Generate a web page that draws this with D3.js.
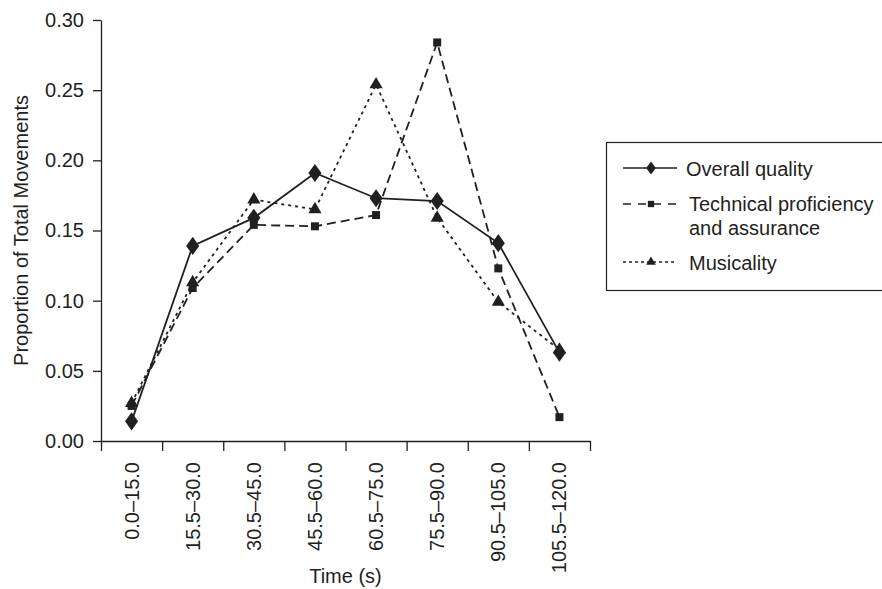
<!DOCTYPE html>
<html>
<head>
<meta charset="utf-8">
<script src="https://cdn.jsdelivr.net/npm/d3@7"></script>
<style>
  body { margin: 0; background: #fff; }
  svg { font-family: 'Liberation Sans', Arial, sans-serif; }
</style>
</head>
<body>
<div id="chart"></div>
<script>
const timeBins = ['0.0–15.0', '15.5–30.0', '30.5–45.0', '45.5–60.0', '60.5–75.0', '75.5–90.0', '90.5–105.0', '105.5–120.0']
const overallQuality = [0.014, 0.139, 0.159, 0.191, 0.173, 0.171, 0.141, 0.063]
const technical = [0.025, 0.109, 0.154, 0.153, 0.161, 0.284, 0.123, 0.017]
const musicality = [0.027, 0.113, 0.172, 0.165, 0.254, 0.159, 0.099, 0.065]
const yTicks = [0, 0.05, 0.10, 0.15, 0.20, 0.25, 0.30]

const width = 882
const height = 589
const ink = '#231f20'
const fontSize = '20px'
const plotLeft = 101
const plotRight = 590
const plotTop = 20
const plotBottom = 441

const svg = d3.select('#chart')
  .append('svg')
  .attr('width', width)
  .attr('height', height)

const x = d3.scaleBand().domain(timeBins).range([plotLeft, plotRight])
const xEdge = d3.scaleLinear().domain([0, timeBins.length]).range([plotLeft, plotRight])
const y = d3.scaleLinear().domain([0, 0.30]).range([plotBottom, plotTop])

// y axis
const yAxis = svg.append('g')
  .attr('transform', `translate(${plotLeft},0)`)
  .call(d3.axisLeft(y).tickValues(yTicks).tickFormat(d3.format('.2f')).tickSize(8).tickSizeOuter(0).tickPadding(9))
yAxis.selectAll('text').style('font-size', fontSize).attr('fill', ink)
yAxis.selectAll('line, path').attr('stroke', ink).attr('stroke-width', 1.3)

// x axis boundary ticks
const xAxis = svg.append('g')
  .attr('transform', `translate(0,${plotBottom})`)
  .call(d3.axisBottom(xEdge).tickValues(d3.range(timeBins.length + 1)).tickFormat('').tickSize(10).tickSizeOuter(0))
xAxis.selectAll('line, path').attr('stroke', ink).attr('stroke-width', 1.3)

// x labels at band centres, rotated
const xLabels = svg.append('g')
  .attr('transform', `translate(0,${plotBottom})`)
  .call(d3.axisBottom(x).tickSize(0).tickPadding(0))
xLabels.select('.domain').remove()
xLabels.selectAll('text')
  .style('font-size', fontSize)
  .attr('fill', ink)
  .attr('text-anchor', 'end')
  .attr('transform', 'rotate(-90)')
  .attr('x', -21)
  .attr('y', 0)
  .attr('dy', '0.35em')

svg.append('text')
  .attr('x', (plotLeft + plotRight) / 2)
  .attr('y', 583)
  .attr('text-anchor', 'middle')
  .style('font-size', fontSize)
  .attr('fill', ink)
  .text('Time (s)')

svg.append('text')
  .attr('transform', `translate(28,${(plotTop + plotBottom) / 2}) rotate(-90)`)
  .attr('text-anchor', 'middle')
  .style('font-size', fontSize)
  .attr('fill', ink)
  .text('Proportion of Total Movements')

const series = [
  { name: 'Overall quality', values: overallQuality, dash: null, symbol: d3.symbolDiamond, size: 95 },
  { name: 'Technical proficiency', values: technical, dash: '9,5', symbol: d3.symbolSquare, size: 64 },
  { name: 'Musicality', values: musicality, dash: '3,4', symbol: d3.symbolTriangle, size: 75 }
]

const line = d3.line()
  .x((d, i) => x(timeBins[i]) + x.bandwidth() / 2)
  .y(d => y(d))

series.forEach(s => {
  svg.append('path')
    .datum(s.values)
    .attr('d', line)
    .attr('fill', 'none')
    .attr('stroke', ink)
    .attr('stroke-width', 1.8)
    .attr('stroke-dasharray', s.dash)
})

series.forEach(s => {
  svg.append('g').selectAll('path')
    .data(s.values)
    .enter()
    .append('path')
    .attr('d', d3.symbol().type(s.symbol).size(s.size))
    .attr('transform', (d, i) => `translate(${x(timeBins[i]) + x.bandwidth() / 2},${y(d)})${s.symbol === d3.symbolDiamond ? ' scale(1.25,1)' : ''}`)
    .attr('fill', ink)
})

// legend
const legend = svg.append('g')
legend.append('rect')
  .attr('x', 606.5)
  .attr('y', 142.5)
  .attr('width', 300)
  .attr('height', 148)
  .attr('fill', 'none')
  .attr('stroke', ink)
  .attr('stroke-width', 1.2)

const legendRows = [
  { lines: ['Overall quality'], y: 168, base: [176], dash: null, symbol: d3.symbolDiamond, size: 48, tx: 686 },
  { lines: ['Technical proficiency', 'and assurance'], y: 204, base: [211, 235], dash: '8,7', symbol: d3.symbolSquare, size: 40, tx: 689 },
  { lines: ['Musicality'], y: 262, base: [270], dash: '3,3', symbol: d3.symbolTriangle, size: 40, tx: 689 }
]

legendRows.forEach(r => {
  legend.append('line')
    .attr('x1', 623)
    .attr('x2', 677)
    .attr('y1', r.y)
    .attr('y2', r.y)
    .attr('stroke', ink)
    .attr('stroke-width', 1.6)
    .attr('stroke-dasharray', r.dash)
  legend.append('path')
    .attr('d', d3.symbol().type(r.symbol).size(r.size))
    .attr('transform', `translate(651,${r.y})${r.symbol === d3.symbolDiamond ? ' scale(1.3,1)' : ''}`)
    .attr('fill', ink)
  r.lines.forEach((l, i) => {
    legend.append('text')
      .attr('x', r.tx)
      .attr('y', r.base[i])
      .style('font-size', fontSize)
      .attr('fill', ink)
      .text(l)
  })
})
</script>
</body>
</html>
